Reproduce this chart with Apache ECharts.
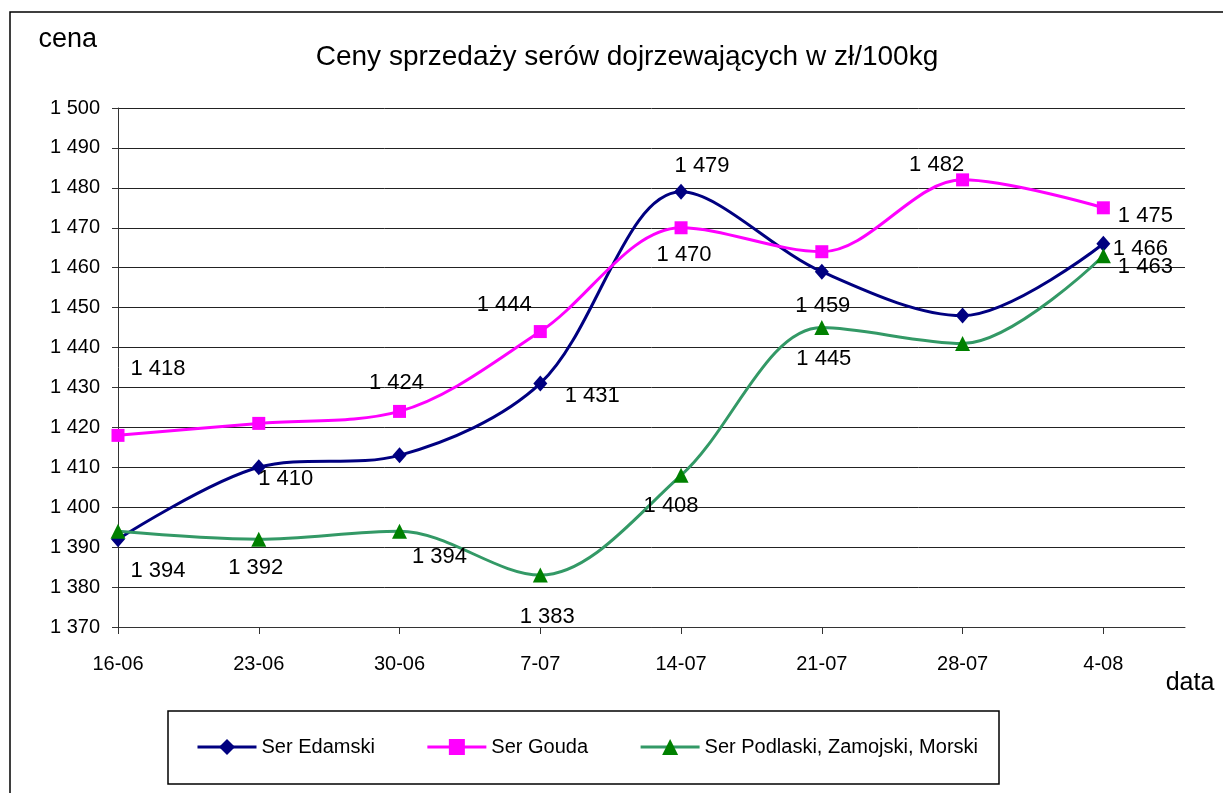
<!DOCTYPE html>
<html lang="pl">
<head>
    <meta charset="UTF-8">
    <title>Ceny sprzedaży serów dojrzewających</title>
    <script src="https://cdn.jsdelivr.net/npm/echarts@6/dist/echarts.min.js"></script>
    <style type="text/css">
        html, body {
            margin: 0;
            height: 100%;
            background: #fff;
        }
    </style>
</head>
<body>

<div id="main" style="width: 1223px;height:793px;"></div>

<script>
    // dane
    const categories = ['16-06', '23-06', '30-06', '7-07', '14-07', '21-07', '28-07', '4-08'];
    const edamski = [1392, 1410, 1413, 1431, 1479, 1459, 1448, 1466];
    const gouda = [1418, 1421, 1424, 1444, 1470, 1464, 1482, 1475];
    const podlaski = [1394, 1392, 1394, 1383, 1408, 1445, 1441, 1463];
    const yTicks = [1370, 1500, 10];

    // gdzie stoja etykiety (przesuniecie od punktu), tylko dla podpisanych punktow
    const edamskiLabels = {1: [27, 12], 3: [52, 12], 4: [21, -26], 5: [1, 34], 7: [37, 5]};
    const goudaLabels = {0: [40, -66], 2: [-3, -28], 3: [-36, -27], 4: [3, 27], 6: [-26, -15], 7: [42, 8]};
    const podlaskiLabels = {0: [40, 40], 1: [-3, 29], 2: [40, 26], 3: [7, 42], 4: [-10, 31], 5: [2, 31], 7: [42, 11]};

    const font = "'Liberation Sans', Arial, sans-serif";
    const fmt = v => String(v).replace(/\B(?=(\d{3})+(?!\d))/g, ' ');

    function points(values, labels) {
        return values.map(function (v, i) {
            const item = {value: [i, v]};
            if (labels[i]) {
                item.label = {show: true, offset: labels[i]};
            } else {
                item.label = {show: false};
            }
            return item;
        });
    }

    function line(name, values, labels, lineColor, markColor, symbol, size) {
        return {
            name: name,
            type: 'line',
            smooth: 0.33,
            symbol: symbol,
            symbolSize: size,
            data: points(values, labels),
            lineStyle: {color: lineColor, width: 3},
            itemStyle: {color: markColor},
            label: {
                position: 'inside',
                color: '#000',
                fontFamily: font,
                fontSize: 22,
                formatter: p => fmt(p.value[1])
            },
            emphasis: {disabled: true},
            z: 2
        };
    }

    const myChart = echarts.init(document.getElementById('main'), null, {renderer: 'canvas'});
    const idx = categories.map((c, i) => i);

    const option = {
        animation: false,
        title: {
            text: 'Ceny sprzedaży serów dojrzewających w zł/100kg',
            left: 622,
            textAlign: 'center',
            top: 38,
            textStyle: {fontFamily: font, fontSize: 28, fontWeight: 'normal', color: '#000'}
        },
        graphic: [{
            type: 'rect',
            shape: {x: 10, y: 12, width: 1400, height: 1000},
            style: {fill: 'none', stroke: '#000', lineWidth: 1.5},
            silent: true
        }, {
            type: 'rect',
            shape: {x: 168, y: 711, width: 831, height: 73},
            style: {fill: 'none', stroke: '#000', lineWidth: 1.5},
            silent: true
        }],
        legend: {
            left: 196,
            top: 737,
            itemWidth: 59,
            itemHeight: 20,
            itemGap: 51,
            padding: 0,
            lineStyle: {width: 3},
            textStyle: {fontFamily: font, fontSize: 20, color: '#000'},
            data: ['Ser Edamski', 'Ser Gouda', 'Ser Podlaski, Zamojski, Morski']
        },
        grid: {
            left: 118,
            right: 38,
            top: 108,
            bottom: 166
        },
        xAxis: {
            type: 'value',
            min: 0,
            max: 7.58,
            name: 'data',
            nameLocation: 'end',
            nameGap: 5,
            nameTextStyle: {
                fontFamily: font, fontSize: 25, color: '#000',
                align: 'center', verticalAlign: 'top', padding: [44, 0, 0, 0]
            },
            axisLine: {lineStyle: {color: '#333', width: 1}},
            axisTick: {show: true, length: 7, lineStyle: {color: '#333'}, customValues: idx},
            axisLabel: {
                margin: 27,
                fontFamily: font, fontSize: 20, color: '#000',
                customValues: idx,
                formatter: v => categories[Math.round(v)]
            },
            splitLine: {show: false}
        },
        yAxis: {
            type: 'value',
            min: yTicks[0],
            max: yTicks[1],
            interval: yTicks[2],
            name: 'cena',
            nameLocation: 'end',
            nameGap: 68,
            nameTextStyle: {
                fontFamily: font, fontSize: 27, color: '#000',
                align: 'right', verticalAlign: 'middle', padding: [0, 21, 0, 0]
            },
            axisLine: {show: true, lineStyle: {color: '#333', width: 1}},
            axisTick: {show: true, length: 6, lineStyle: {color: '#333'}},
            axisLabel: {
                margin: 18,
                fontFamily: font, fontSize: 20, color: '#000',
                formatter: fmt
            },
            splitLine: {lineStyle: {color: '#222', width: 1}}
        },
        series: [
            line('Ser Edamski', edamski, edamskiLabels, '#000080', '#000080', 'diamond', [14, 16]),
            line('Ser Gouda', gouda, goudaLabels, '#FF00FF', '#FF00FF', 'rect', 13),
            line('Ser Podlaski, Zamojski, Morski', podlaski, podlaskiLabels, '#339966', '#008000', 'triangle', 15)
        ]
    };

    myChart.setOption(option);
</script>
</body>
</html>
